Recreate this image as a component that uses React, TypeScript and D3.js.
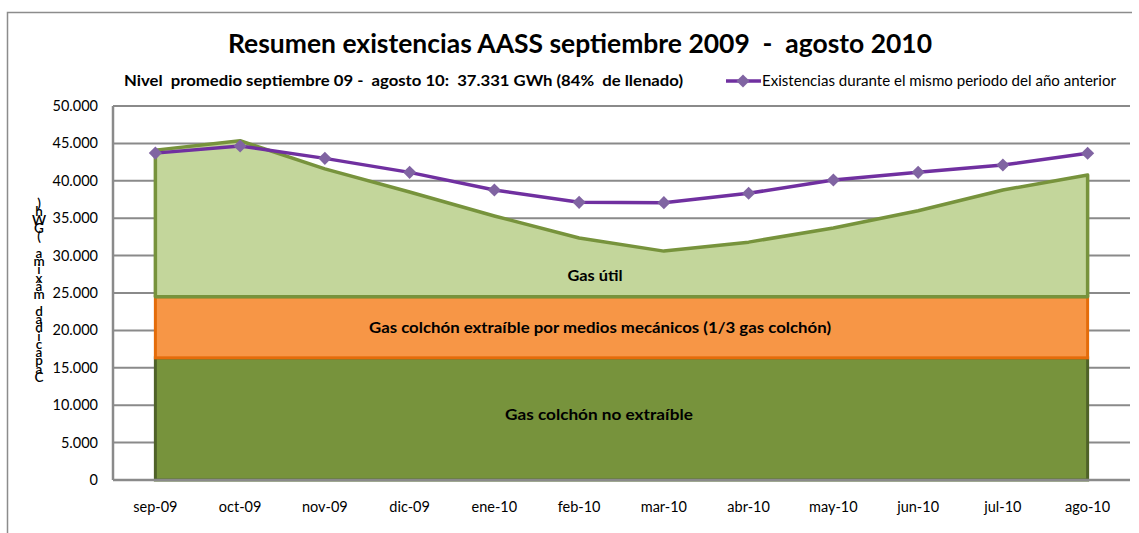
import { useRef, useEffect } from 'react';
import * as d3 from 'd3';

// Months shown on the category axis
const months = ['sep-09', 'oct-09', 'nov-09', 'dic-09', 'ene-10', 'feb-10', 'mar-10', 'abr-10', 'may-10', 'jun-10', 'jul-10', 'ago-10'];

// Total stock (GWh) sep 2009 - ago 2010 (top of the "Gas útil" area)
const stock = [44100, 45350, 41600, 38500, 35300, 32350, 30600, 31800, 33700, 36000, 38770, 40780];

// Same period of the previous year
const previousYear = [43700, 44650, 43000, 41130, 38770, 37120, 37080, 38330, 40100, 41130, 42110, 43680];

// Cushion gas levels
const cushionNonExtractable = 16333;
const cushionExtractable = 8167;

const yTicks = [0, 5000, 10000, 15000, 20000, 25000, 30000, 35000, 40000, 45000, 50000];

const yLabel = 'Capacidad máxima (GWh)';

const FONT = "Lato, 'Open Sans', sans-serif";

export default function App() {
  const svgRef = useRef<SVGSVGElement>(null);

  useEffect(() => {
    document.body.style.margin = '0';
    const svg = d3.select(svgRef.current);
    svg.selectAll('*').remove();

    const width = 1139;
    const height = 533;
    const plot = { left: 113, right: 1130, top: 106, bottom: 480 };

    const x = d3.scaleBand<string>().domain(months).range([plot.left, plot.right]);
    const cx = (m: string) => (x(m) as number) + x.bandwidth() / 2;
    const y = d3.scaleLinear().domain([0, 50000]).range([plot.bottom, plot.top]);

    svg.append('rect').attr('width', width).attr('height', height).attr('fill', '#fff');

    // outer chart border (top + left visible)
    svg.append('path')
      .attr('d', `M7.5,${height} L7.5,12.5 L1132,12.5`)
      .attr('fill', 'none')
      .attr('stroke', '#8c8c8c')
      .attr('stroke-width', 1.5);

    // gridlines
    svg.append('g')
      .selectAll('line')
      .data(yTicks)
      .join('line')
      .attr('x1', plot.left)
      .attr('x2', plot.right)
      .attr('y1', (d) => y(d))
      .attr('y2', (d) => y(d))
      .attr('stroke', '#8a8a8a')
      .attr('stroke-width', 2);

    // left axis line
    svg.append('line')
      .attr('x1', plot.left).attr('x2', plot.left)
      .attr('y1', plot.top).attr('y2', plot.bottom)
      .attr('stroke', '#8a8a8a').attr('stroke-width', 2.5);

    const x0 = cx(months[0]);
    const x1 = cx(months[months.length - 1]);
    const cushionTop = cushionNonExtractable + cushionExtractable;

    // Gas colchón no extraíble
    svg.append('rect')
      .attr('x', x0)
      .attr('y', y(cushionNonExtractable))
      .attr('width', x1 - x0)
      .attr('height', y(0) - y(cushionNonExtractable))
      .attr('fill', '#77933c')
      .attr('stroke', '#4f6228')
      .attr('stroke-width', 3);

    // Gas colchón extraíble
    svg.append('rect')
      .attr('x', x0)
      .attr('y', y(cushionTop))
      .attr('width', x1 - x0)
      .attr('height', y(cushionNonExtractable) - y(cushionTop))
      .attr('fill', '#f79646')
      .attr('stroke', '#e46c0a')
      .attr('stroke-width', 3);

    // Gas útil
    const area = d3.area<number>()
      .x((_d, i) => cx(months[i]))
      .y0(y(cushionTop))
      .y1((d) => y(d));
    svg.append('path')
      .datum(stock)
      .attr('d', area)
      .attr('fill', '#c3d69b')
      .attr('stroke', '#77933c')
      .attr('stroke-width', 3.5)
      .attr('stroke-linejoin', 'round');

    // bottom axis line
    svg.append('line')
      .attr('x1', plot.left).attr('x2', plot.right)
      .attr('y1', y(0)).attr('y2', y(0))
      .attr('stroke', '#8a8a8a').attr('stroke-width', 2.5);

    // previous year line
    const line = d3.line<number>()
      .x((_d, i) => cx(months[i]))
      .y((d) => y(d));
    svg.append('path')
      .datum(previousYear)
      .attr('d', line)
      .attr('fill', 'none')
      .attr('stroke', '#7030a0')
      .attr('stroke-width', 3.5);

    const diamond = d3.symbol().type(d3.symbolDiamond2).size(110);
    svg.append('g')
      .selectAll('path')
      .data(previousYear)
      .join('path')
      .attr('transform', (d, i) => `translate(${cx(months[i])},${y(d)})`)
      .attr('d', diamond)
      .attr('fill', '#8064a2');

    // y tick labels
    svg.append('g')
      .selectAll('text')
      .data(yTicks)
      .join('text')
      .attr('x', 98)
      .attr('y', (d) => y(d) + 5)
      .attr('text-anchor', 'end')
      .attr('font-family', FONT)
      .attr('font-size', 14.5)
      .attr('fill', '#000')
      .text((d) => (d === 0 ? '0' : d3.format(',')(d).replace(/,/g, '.')));

    // x tick labels
    svg.append('g')
      .selectAll('text')
      .data(months)
      .join('text')
      .attr('x', (d) => cx(d))
      .attr('y', 512)
      .attr('text-anchor', 'middle')
      .attr('font-family', FONT)
      .attr('font-size', 14.5)
      .attr('fill', '#000')
      .text((d) => d);

    // y axis label: stacked upright characters, bottom to top
    const chars = yLabel.split('');
    const labelBottom = 378;
    const labelTop = 204;
    const step = (labelBottom - labelTop) / (chars.length - 1);
    svg.append('g')
      .selectAll('text')
      .data(chars)
      .join('text')
      .attr('x', 39)
      .attr('y', (_d, i) => labelBottom - i * step + 4)
      .attr('text-anchor', 'middle')
      .attr('font-family', FONT)
      .attr('font-size', 13.5)
      .attr('font-weight', 600)
      .attr('fill', '#000')
      .text((d) => d);

    // title
    svg.append('text')
      .attr('x', 228)
      .attr('y', 53)
      .attr('font-family', FONT)
      .attr('font-size', 26)
      .attr('font-weight', 'bold')
      .attr('fill', '#000')
      .attr('textLength', 704)
      .attr('lengthAdjust', 'spacingAndGlyphs')
      .style('white-space', 'pre')
      .text('Resumen existencias AASS septiembre 2009  -  agosto 2010');

    svg.append('text')
      .attr('x', 124)
      .attr('y', 86)
      .attr('font-family', FONT)
      .attr('font-size', 15.5)
      .attr('font-weight', 'bold')
      .attr('fill', '#000')
      .attr('textLength', 559)
      .attr('lengthAdjust', 'spacingAndGlyphs')
      .style('white-space', 'pre')
      .text('Nivel  promedio septiembre 09 -  agosto 10:  37.331 GWh (84%  de llenado)');

    // legend
    svg.append('line')
      .attr('x1', 726).attr('x2', 761)
      .attr('y1', 81).attr('y2', 81)
      .attr('stroke', '#7030a0').attr('stroke-width', 3.5);
    svg.append('path')
      .attr('transform', 'translate(743,81)')
      .attr('d', diamond)
      .attr('fill', '#8064a2');
    svg.append('text')
      .attr('x', 762)
      .attr('y', 86)
      .attr('font-family', FONT)
      .attr('font-size', 15)
      .attr('fill', '#000')
      .attr('textLength', 354)
      .attr('lengthAdjust', 'spacingAndGlyphs')
      .text('Existencias durante el mismo periodo del año anterior');

    // area labels
    const areaLabels = [
      { text: 'Gas útil', x: 595, y: 281, w: 55 },
      { text: 'Gas colchón extraíble por medios mecánicos (1/3 gas colchón)', x: 600, y: 333, w: 462 },
      { text: 'Gas colchón no extraíble', x: 599, y: 420, w: 188 },
    ];
    svg.append('g')
      .selectAll('text')
      .data(areaLabels)
      .join('text')
      .attr('x', (d) => d.x)
      .attr('y', (d) => d.y)
      .attr('text-anchor', 'middle')
      .attr('font-family', FONT)
      .attr('font-size', 16)
      .attr('font-weight', 'bold')
      .attr('fill', '#000')
      .attr('textLength', (d) => d.w)
      .attr('lengthAdjust', 'spacingAndGlyphs')
      .text((d) => d.text);
  }, []);

  return <svg ref={svgRef} width={1139} height={533} style={{ display: 'block' }} />;
}
